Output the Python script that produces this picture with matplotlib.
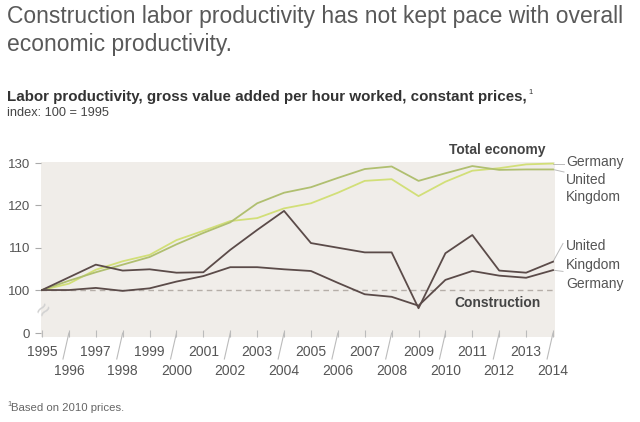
import matplotlib
matplotlib.use("Agg")
import matplotlib.pyplot as plt
import matplotlib.transforms as mtransforms
import numpy as np

plt.rcParams['font.family'] = ['Liberation Sans', 'DejaVu Sans']

years = list(range(1995, 2015))
total_germany = [100, 101.5, 104.8, 106.8, 108.3, 111.8, 114.0, 116.3, 117.0, 119.3,
                 120.5, 123.0, 125.8, 126.2, 122.2, 125.6, 128.2, 128.8, 129.7, 129.9]
total_uk = [100, 102.2, 104.2, 106.0, 107.8, 110.8, 113.5, 116.0, 120.5, 123.0,
            124.3, 126.5, 128.6, 129.2, 125.8, 127.6, 129.3, 128.4, 128.5, 128.5]
constr_uk = [100, 103.0, 106.0, 104.6, 104.9, 104.1, 104.2, 109.5, 114.2, 118.7,
             111.1, 110.0, 108.9, 108.9, 95.7, 108.7, 113.0, 104.6, 104.1, 106.7]
constr_germany = [100, 100.0, 100.5, 99.8, 100.4, 102.0, 103.3, 105.4, 105.4, 104.9,
                  104.5, 101.7, 99.0, 98.4, 96.3, 102.4, 104.5, 103.4, 102.9, 104.7]
ytick_values = [89.8, 100, 110, 120, 130]
ytick_labels = ["0", "100", "110", "120", "130"]

W, H = 640, 422
fig = plt.figure(figsize=(W / 100, H / 100), dpi=100)
fig.patch.set_facecolor("white")

def fx(px):
    return px / W

def fy(py):
    return 1 - py / H

ax = fig.add_axes([fx(41), fy(337), fx(555) - fx(41), fy(162) - fy(337)])
ax.set_facecolor("#f0ede9")
for s in ax.spines.values():
    s.set_visible(False)

c_de = "#d2df78"
c_uk = "#b0bf70"
c_con = "#5b4b49"

ax.axhline(100, color="#b5aea8", lw=1.0, ls=(0, (4, 3)), zorder=1)
ax.plot(years, total_germany, color=c_de, lw=1.3, zorder=3)
ax.plot(years, total_uk, color=c_uk, lw=1.3, zorder=3)
ax.plot(years, constr_uk, color=c_con, lw=1.3, zorder=4)
ax.plot(years, constr_germany, color=c_con, lw=1.3, zorder=4)

ax.set_xlim(1995 - 1 / 26.9, 2014 + 2 / 26.9)
ax.set_ylim(88.9, 130.26)

ax.set_yticks(ytick_values)
ax.set_yticklabels(ytick_labels)
ax.tick_params(axis="y", length=4, width=0.8, color="#aaaaaa", labelsize=9.5,
               labelcolor="#555555", pad=4)

ax.set_xticks(years)
ax.set_xticklabels([])
ax.tick_params(axis="x", direction="in", length=5, width=0.8, color="#bbbbbb")

# staggered year labels
trans = mtransforms.blended_transform_factory(ax.transData, fig.transFigure)
for y in years:
    if y % 2 == 1:
        ax.text(y, fy(352), str(y), transform=trans, ha="center", va="center",
                fontsize=10, color="#555555")
    else:
        ax.text(y, fy(371), str(y), transform=trans, ha="center", va="center",
                fontsize=10, color="#555555")
        ax.plot([y, y - 0.22], [fy(333), fy(359)], transform=trans, color="#bbbbbb",
                lw=0.8, clip_on=False)

# axis break mark
fig.text(fx(45), fy(311), "≈", fontsize=17, color="#d2d2d2", rotation=50,
         ha="center", va="center")

# leader lines and right labels
lab_kw = dict(fontsize=10, color="#555555", va="center", ha="left")
fig.text(fx(566), fy(162), "Germany", **lab_kw)
fig.text(fx(566), fy(180), "United", **lab_kw)
fig.text(fx(566), fy(197), "Kingdom", **lab_kw)
fig.text(fx(566), fy(246), "United", **lab_kw)
fig.text(fx(566), fy(265), "Kingdom", **lab_kw)
fig.text(fx(566), fy(284), "Germany", **lab_kw)

lt = mtransforms.blended_transform_factory(fig.transFigure, ax.transData)
ax.plot([fx(553), fx(564)], [total_germany[-1], total_germany[-1]], transform=lt,
        color="#bbbbbb", lw=0.7, clip_on=False)
ax.plot([fx(553), fx(564)], [total_uk[-1], total_uk[-1] - 0.6], transform=lt,
        color="#bbbbbb", lw=0.7, clip_on=False)
ax.plot([fx(553), fx(563)], [constr_uk[-1], constr_uk[-1] + 4.3], transform=lt,
        color="#bbbbbb", lw=0.7, clip_on=False)
ax.plot([fx(553), fx(563)], [constr_germany[-1], constr_germany[-1] - 0.3], transform=lt,
        color="#bbbbbb", lw=0.7, clip_on=False)

fig.text(fx(497), fy(150), "Total economy", fontsize=10, fontweight="bold",
         color="#444444", ha="center", va="center")
ax.text(2011.95, 96.9, "Construction", fontsize=10, fontweight="bold",
        color="#444444", ha="center", va="center")

# titles
fig.text(fx(7), fy(17), "Construction labor productivity has not kept pace with overall",
         fontsize=16.5, color="#595959", ha="left", va="center")
fig.text(fx(7), fy(45), "economic productivity.",
         fontsize=16.5, color="#595959", ha="left", va="center")
sub = fig.text(fx(7), fy(97), "Labor productivity, gross value added per hour worked, constant prices,",
               fontsize=10.9, fontweight="bold", color="#333333", ha="left", va="center")
renderer = fig.canvas.get_renderer()
bb = sub.get_window_extent(renderer=renderer)
fig.text(fx(bb.x1 + 2), fy(92), "1", fontsize=5.5, color="#333333", ha="left", va="center")
fig.text(fx(7), fy(113), "index: 100 = 1995", fontsize=9.2, color="#444444",
         ha="left", va="center")
fig.text(fx(7), fy(405), "1", fontsize=5.5, color="#666666", ha="left", va="center")
fig.text(fx(11), fy(408), "Based on 2010 prices.", fontsize=8.2, color="#666666",
         ha="left", va="center")

fig.savefig("out.png", dpi=100, facecolor="white")
